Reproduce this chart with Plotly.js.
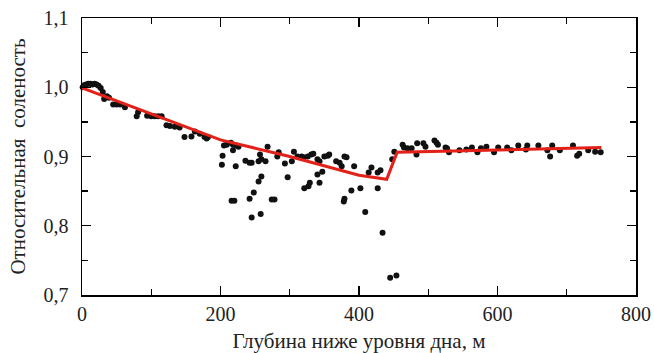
<!DOCTYPE html>
<html>
<head>
<meta charset="utf-8">
<script src="https://cdn.plot.ly/plotly-3.0.1.min.js"></script>
<style>html,body{margin:0;padding:0;background:#fff;}#chart{width:654px;height:353px;}</style>
</head>
<body>
<div id="chart"></div>
<script>
// Measured points: depth below bottom (m) and relative salinity
const pointDepth = [1,3,6,9,12,15,18,21,24,27,30,32,36,39,
  45,50,55,62,79,81,94,100,105,110,115,
  122,127,134,141,148,158,163,170,177,180,182,
  202,203,205,209,215,216,218,218,220,222,223,226,236,242,242,245,245,248,255,255,257,258,259,259,265,268,274,278,282,284,293,297,303,306,311,317,320,321,326,327,329,330,331,334,340,340,343,343,347,350,355,357,367,372,375,378,379,379,382,389,393,402,409,414,418,427,427,431,434,445,448,451,454,
  463,465,470,476,483,484,493,496,509,512,514,525,527,530,545,555,563,571,576,584,595,601,614,620,630,641,643,659,672,676,679,690,709,715,718,731,741,749];
const pointSalinity = [1.000,1.003,1.004,1.005,1.005,1.004,1.005,1.004,1.002,0.999,0.993,0.983,0.987,0.985,
  0.975,0.975,0.975,0.971,0.958,0.964,0.959,0.958,0.958,0.958,0.958,
  0.945,0.944,0.943,0.942,0.928,0.929,0.936,0.933,0.928,0.926,0.928,
  0.888,0.901,0.916,0.917,0.920,0.836,0.917,0.909,0.836,0.886,0.916,0.914,0.894,0.891,0.839,0.891,0.812,0.848,0.893,0.864,0.903,0.817,0.896,0.871,0.893,0.914,0.838,0.838,0.900,0.906,0.890,0.870,0.893,0.907,0.900,0.900,0.899,0.854,0.900,0.857,0.862,0.698,0.903,0.904,0.896,0.874,0.893,0.862,0.878,0.900,0.901,0.903,0.893,0.891,0.886,0.835,0.839,0.900,0.899,0.851,0.886,0.854,0.820,0.877,0.884,0.877,0.854,0.880,0.790,0.725,0.896,0.907,0.728,
  0.917,0.913,0.912,0.912,0.903,0.919,0.919,0.914,0.923,0.920,0.917,0.913,0.912,0.906,0.909,0.910,0.913,0.906,0.912,0.914,0.906,0.913,0.913,0.909,0.916,0.910,0.916,0.916,0.909,0.900,0.916,0.909,0.916,0.901,0.904,0.909,0.907,0.906];

// Model curve (red line)
const lineDepth = [0,100,200,300,400,440,455,750];
const lineSalinity = [0.999,0.961,0.924,0.900,0.873,0.867,0.906,0.913];

const xTicks = [0,200,400,600,800];
const yTicks = [0.7,0.8,0.9,1.0,1.1];

const fontFamily = 'Liberation Serif';

const traces = [
  {
    x: pointDepth, y: pointSalinity, type: 'scatter', mode: 'markers',
    marker: {color: '#111111', size: 6},
    cliponaxis: false, hoverinfo: 'skip'
  },
  {
    x: lineDepth, y: lineSalinity, type: 'scatter', mode: 'lines',
    line: {color: '#e32119', width: 3},
    hoverinfo: 'skip'
  }
];

const axisCommon = {
  showgrid: false, zeroline: false,
  showline: true, linecolor: '#000', linewidth: 1.5,
  mirror: 'ticks', ticks: 'inside', ticklen: 9, tickwidth: 1.3, tickcolor: '#000',
  tickfont: {family: fontFamily, size: 20, color: '#222'},
  minor: {ticks: 'inside', ticklen: 6, tickwidth: 1.3, tickcolor: '#000'}
};

const layout = {
  width: 654, height: 353,
  margin: {l: 82, r: 18, t: 18, b: 58},
  paper_bgcolor: '#fff', plot_bgcolor: '#fff',
  showlegend: false,
  separators: ', ',
  font: {family: fontFamily},
  xaxis: Object.assign({}, axisCommon, {
    range: [0, 800], tickvals: xTicks, ticktext: xTicks.map(String),
    minor: Object.assign({}, axisCommon.minor, {dtick: 100, tick0: 0}),
    title: {text: 'Глубина ниже уровня дна, м', font: {family: fontFamily, size: 21, color: '#222'}, standoff: 10}
  }),
  yaxis: Object.assign({}, axisCommon, {
    range: [0.7, 1.1], tickvals: yTicks, ticktext: yTicks.map(v => v.toFixed(1).replace('.', ',')),
    minor: Object.assign({}, axisCommon.minor, {dtick: 0.05, tick0: 0.7}),
    ticklabelstandoff: 8,
    title: {text: 'Относительная  соленость', font: {family: fontFamily, size: 21, color: '#222'}, standoff: 12}
  })
};

Plotly.newPlot('chart', traces, layout, {staticPlot: true, displayModeBar: false});
</script>
</body>
</html>
